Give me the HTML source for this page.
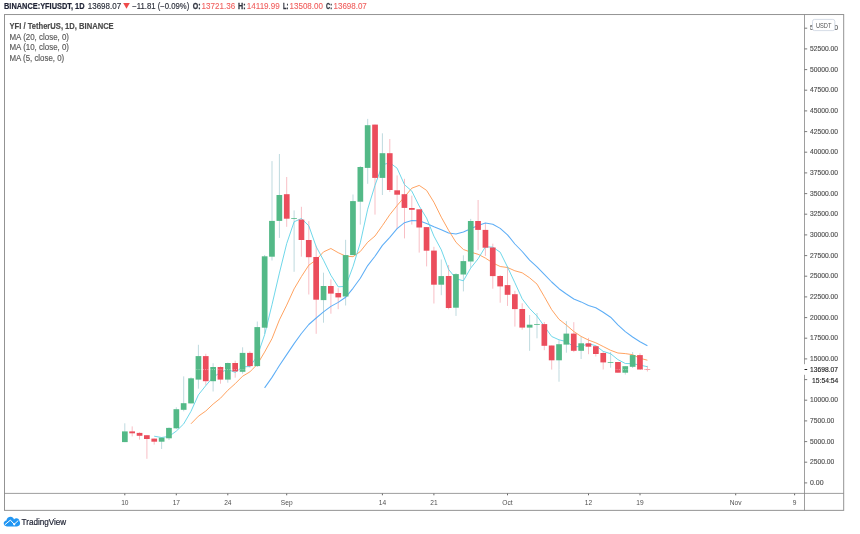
<!DOCTYPE html>
<html><head><meta charset="utf-8"><title>YFIUSDT chart</title>
<style>html,body{margin:0;padding:0;background:#fff}svg{display:block}text{font-family:"Liberation Sans",Arial,sans-serif}</style></head><body>
<svg width="860" height="534" viewBox="0 0 860 534">
<rect width="860" height="534" fill="#fff"/>
<g id="wicks" stroke-width="0.85">
<line x1="124.8" x2="124.8" y1="423.3" y2="442.1" stroke="#b4d3d9"/>
<line x1="132.2" x2="132.2" y1="426.4" y2="436.4" stroke="#f7b3ba"/>
<line x1="139.5" x2="139.5" y1="432.3" y2="439.6" stroke="#f7b3ba"/>
<line x1="146.9" x2="146.9" y1="435.2" y2="458.8" stroke="#f7b3ba"/>
<line x1="154.2" x2="154.2" y1="438.6" y2="444.6" stroke="#f7b3ba"/>
<line x1="161.6" x2="161.6" y1="437.1" y2="449.0" stroke="#b4d3d9"/>
<line x1="169.0" x2="169.0" y1="427.4" y2="440.0" stroke="#b4d3d9"/>
<line x1="176.3" x2="176.3" y1="407.3" y2="429.2" stroke="#b4d3d9"/>
<line x1="183.7" x2="183.7" y1="376.4" y2="411.3" stroke="#b4d3d9"/>
<line x1="191.0" x2="191.0" y1="377.4" y2="403.4" stroke="#b4d3d9"/>
<line x1="198.4" x2="198.4" y1="344.8" y2="388.7" stroke="#b4d3d9"/>
<line x1="205.8" x2="205.8" y1="353.8" y2="385.5" stroke="#f7b3ba"/>
<line x1="213.1" x2="213.1" y1="363.2" y2="391.5" stroke="#b4d3d9"/>
<line x1="220.5" x2="220.5" y1="366.4" y2="383.7" stroke="#f7b3ba"/>
<line x1="227.8" x2="227.8" y1="362.6" y2="382.7" stroke="#b4d3d9"/>
<line x1="235.2" x2="235.2" y1="360.7" y2="377.7" stroke="#f7b3ba"/>
<line x1="242.6" x2="242.6" y1="347.3" y2="373.7" stroke="#b4d3d9"/>
<line x1="249.9" x2="249.9" y1="351.3" y2="367.6" stroke="#f7b3ba"/>
<line x1="257.3" x2="257.3" y1="321.5" y2="367.0" stroke="#b4d3d9"/>
<line x1="264.6" x2="264.6" y1="255.0" y2="334.0" stroke="#b4d3d9"/>
<line x1="272.0" x2="272.0" y1="161.1" y2="260.5" stroke="#b4d3d9"/>
<line x1="279.4" x2="279.4" y1="154.0" y2="237.9" stroke="#b4d3d9"/>
<line x1="286.7" x2="286.7" y1="177.0" y2="226.8" stroke="#f7b3ba"/>
<line x1="294.1" x2="294.1" y1="210.4" y2="271.8" stroke="#b4d3d9"/>
<line x1="301.4" x2="301.4" y1="206.8" y2="256.7" stroke="#f7b3ba"/>
<line x1="308.8" x2="308.8" y1="221.2" y2="294.5" stroke="#f7b3ba"/>
<line x1="316.2" x2="316.2" y1="245.7" y2="333.8" stroke="#f7b3ba"/>
<line x1="323.5" x2="323.5" y1="272.7" y2="322.7" stroke="#b4d3d9"/>
<line x1="330.9" x2="330.9" y1="279.4" y2="313.7" stroke="#f7b3ba"/>
<line x1="338.2" x2="338.2" y1="288.2" y2="309.2" stroke="#f7b3ba"/>
<line x1="345.6" x2="345.6" y1="239.8" y2="305.5" stroke="#b4d3d9"/>
<line x1="353.0" x2="353.0" y1="194.5" y2="255.1" stroke="#b4d3d9"/>
<line x1="360.3" x2="360.3" y1="166.0" y2="224.6" stroke="#b4d3d9"/>
<line x1="367.7" x2="367.7" y1="118.9" y2="183.8" stroke="#b4d3d9"/>
<line x1="375.0" x2="375.0" y1="124.6" y2="214.6" stroke="#f7b3ba"/>
<line x1="382.4" x2="382.4" y1="133.3" y2="195.0" stroke="#b4d3d9"/>
<line x1="389.8" x2="389.8" y1="139.0" y2="192.0" stroke="#f7b3ba"/>
<line x1="397.1" x2="397.1" y1="175.4" y2="229.0" stroke="#f7b3ba"/>
<line x1="404.5" x2="404.5" y1="178.8" y2="238.4" stroke="#f7b3ba"/>
<line x1="411.8" x2="411.8" y1="195.7" y2="224.6" stroke="#f7b3ba"/>
<line x1="419.2" x2="419.2" y1="209.3" y2="252.6" stroke="#f7b3ba"/>
<line x1="426.6" x2="426.6" y1="227.1" y2="266.4" stroke="#f7b3ba"/>
<line x1="433.9" x2="433.9" y1="246.8" y2="303.5" stroke="#f7b3ba"/>
<line x1="441.3" x2="441.3" y1="259.5" y2="295.2" stroke="#b4d3d9"/>
<line x1="448.6" x2="448.6" y1="265.0" y2="309.3" stroke="#f7b3ba"/>
<line x1="456.0" x2="456.0" y1="273.2" y2="315.9" stroke="#b4d3d9"/>
<line x1="463.4" x2="463.4" y1="255.3" y2="291.4" stroke="#b4d3d9"/>
<line x1="470.7" x2="470.7" y1="218.9" y2="267.6" stroke="#b4d3d9"/>
<line x1="478.1" x2="478.1" y1="200.0" y2="249.9" stroke="#f7b3ba"/>
<line x1="485.4" x2="485.4" y1="222.9" y2="255.9" stroke="#f7b3ba"/>
<line x1="492.8" x2="492.8" y1="243.7" y2="288.7" stroke="#f7b3ba"/>
<line x1="500.2" x2="500.2" y1="275.1" y2="302.7" stroke="#f7b3ba"/>
<line x1="507.5" x2="507.5" y1="266.3" y2="305.9" stroke="#f7b3ba"/>
<line x1="514.9" x2="514.9" y1="290.8" y2="326.6" stroke="#f7b3ba"/>
<line x1="522.2" x2="522.2" y1="303.3" y2="329.7" stroke="#f7b3ba"/>
<line x1="529.6" x2="529.6" y1="315.0" y2="350.8" stroke="#b4d3d9"/>
<line x1="537.0" x2="537.0" y1="313.0" y2="338.3" stroke="#b4d3d9"/>
<line x1="544.3" x2="544.3" y1="322.0" y2="350.2" stroke="#f7b3ba"/>
<line x1="551.7" x2="551.7" y1="345.5" y2="369.7" stroke="#f7b3ba"/>
<line x1="559.0" x2="559.0" y1="340.2" y2="381.7" stroke="#b4d3d9"/>
<line x1="566.4" x2="566.4" y1="321.1" y2="352.7" stroke="#b4d3d9"/>
<line x1="573.8" x2="573.8" y1="322.2" y2="352.1" stroke="#f7b3ba"/>
<line x1="581.1" x2="581.1" y1="336.4" y2="359.0" stroke="#b4d3d9"/>
<line x1="588.5" x2="588.5" y1="337.9" y2="354.2" stroke="#f7b3ba"/>
<line x1="595.8" x2="595.8" y1="345.5" y2="356.5" stroke="#f7b3ba"/>
<line x1="603.2" x2="603.2" y1="351.5" y2="369.6" stroke="#f7b3ba"/>
<line x1="610.6" x2="610.6" y1="352.0" y2="367.7" stroke="#b4d3d9"/>
<line x1="617.9" x2="617.9" y1="362.0" y2="372.7" stroke="#f7b3ba"/>
<line x1="625.3" x2="625.3" y1="366.2" y2="374.6" stroke="#b4d3d9"/>
<line x1="632.6" x2="632.6" y1="352.0" y2="368.0" stroke="#b4d3d9"/>
<line x1="640.0" x2="640.0" y1="353.3" y2="369.6" stroke="#f7b3ba"/>
<line x1="647.4" x2="647.4" y1="365.8" y2="371.5" stroke="#f7b3ba"/>
</g>
<g fill="none" stroke-linejoin="round">
<path d="M264.6 387.9 L272.0 377.4 L279.4 365.5 L286.7 354.6 L294.1 343.6 L301.4 333.5 L308.8 324.5 L316.2 318.0 L323.5 311.9 L330.9 306.4 L338.2 302.4 L345.6 297.3 L353.0 288.3 L360.3 278.3 L367.7 265.6 L375.0 256.3 L382.4 245.4 L389.8 237.3 L397.1 228.7 L404.5 222.7 L411.8 220.4 L419.2 220.8 L426.6 223.5 L433.9 226.8 L441.3 229.7 L448.6 233.1 L456.0 234.0 L463.4 232.1 L470.7 228.8 L478.1 225.6 L485.4 223.1 L492.8 224.2 L500.2 228.4 L507.5 234.8 L514.9 244.0 L522.2 251.5 L529.6 260.1 L537.0 266.8 L544.3 274.4 L551.7 282.0 L559.0 288.7 L566.4 294.0 L573.8 299.0 L581.1 301.9 L588.5 305.5 L595.8 307.8 L603.2 312.2 L610.6 317.2 L617.9 324.8 L625.3 331.6 L632.6 337.0 L640.0 341.7 L647.4 345.8" stroke="#5eaef6" stroke-width="1.05"/>
<path d="M191.0 423.8 L198.4 416.2 L205.8 411.0 L213.1 404.1 L220.5 398.2 L227.8 390.3 L235.2 383.7 L242.6 376.2 L249.9 371.9 L257.3 364.3 L264.6 352.1 L272.0 338.6 L279.4 319.9 L286.7 305.1 L294.1 288.9 L301.4 276.6 L308.8 265.2 L316.2 259.9 L323.5 251.9 L330.9 248.5 L338.2 252.7 L345.6 256.1 L353.0 256.7 L360.3 251.5 L367.7 242.2 L375.0 236.0 L382.4 225.6 L389.8 214.7 L397.1 205.5 L404.5 196.9 L411.8 188.2 L419.2 185.4 L426.6 190.4 L433.9 202.2 L441.3 217.2 L448.6 230.3 L456.0 242.3 L463.4 249.5 L470.7 252.1 L478.1 254.3 L485.4 258.1 L492.8 262.9 L500.2 266.5 L507.5 267.5 L514.9 270.8 L522.2 272.8 L529.6 277.8 L537.0 284.1 L544.3 296.6 L551.7 309.7 L559.0 319.3 L566.4 325.1 L573.8 331.5 L581.1 336.4 L588.5 340.1 L595.8 342.8 L603.2 346.5 L610.6 350.3 L617.9 353.0 L625.3 353.6 L632.6 354.7 L640.0 358.3 L647.4 360.2" stroke="#ff9850" stroke-width="0.9"/>
<path d="M154.2 436.2 L161.6 437.5 L169.0 436.4 L176.3 431.1 L183.7 423.9 L191.0 411.3 L198.4 394.9 L205.8 385.6 L213.1 377.2 L220.5 372.4 L227.8 369.4 L235.2 372.4 L242.6 366.8 L249.9 366.6 L257.3 356.1 L264.6 334.8 L272.0 304.7 L279.4 273.1 L286.7 243.6 L294.1 221.8 L301.4 218.5 L308.8 225.8 L316.2 246.7 L323.5 260.2 L330.9 275.3 L338.2 286.8 L345.6 286.4 L353.0 266.6 L360.3 242.8 L367.7 209.2 L375.0 185.3 L382.4 164.9 L389.8 162.7 L397.1 168.2 L404.5 184.7 L411.8 191.1 L419.2 206.0 L426.6 218.1 L433.9 236.1 L441.3 249.8 L448.6 269.4 L456.0 278.7 L463.4 280.8 L470.7 268.1 L478.1 258.8 L485.4 246.8 L492.8 247.2 L500.2 252.2 L507.5 267.0 L514.9 282.8 L522.2 298.8 L529.6 308.5 L537.0 316.1 L544.3 326.3 L551.7 336.5 L559.0 339.8 L566.4 341.6 L573.8 346.9 L581.1 346.4 L588.5 343.7 L595.8 345.7 L603.2 351.4 L610.6 353.7 L617.9 359.6 L625.3 363.5 L632.6 363.7 L640.0 365.1 L647.4 366.7" stroke="#5fd3e6" stroke-width="0.9"/>
</g>
<g id="bodies">
<rect x="122.0" y="431.4" width="5.7" height="10.7" fill="#53b987"/>
<rect x="129.3" y="431.4" width="5.7" height="1.9" fill="#eb4d5c"/>
<rect x="136.7" y="432.9" width="5.7" height="2.9" fill="#eb4d5c"/>
<rect x="144.0" y="435.2" width="5.7" height="3.8" fill="#eb4d5c"/>
<rect x="151.4" y="438.6" width="5.7" height="3.1" fill="#eb4d5c"/>
<rect x="158.8" y="437.7" width="5.7" height="4.0" fill="#53b987"/>
<rect x="166.1" y="427.9" width="5.7" height="10.4" fill="#53b987"/>
<rect x="173.5" y="409.2" width="5.7" height="19.1" fill="#53b987"/>
<rect x="180.8" y="403.2" width="5.7" height="6.6" fill="#53b987"/>
<rect x="188.2" y="378.3" width="5.7" height="25.1" fill="#53b987"/>
<rect x="195.6" y="356.1" width="5.7" height="23.5" fill="#53b987"/>
<rect x="202.9" y="356.1" width="5.7" height="25.1" fill="#eb4d5c"/>
<rect x="210.3" y="367.0" width="5.7" height="14.2" fill="#53b987"/>
<rect x="217.6" y="367.0" width="5.7" height="12.6" fill="#eb4d5c"/>
<rect x="225.0" y="363.0" width="5.7" height="16.6" fill="#53b987"/>
<rect x="232.3" y="363.0" width="5.7" height="8.4" fill="#eb4d5c"/>
<rect x="239.7" y="352.9" width="5.7" height="18.9" fill="#53b987"/>
<rect x="247.1" y="352.9" width="5.7" height="13.2" fill="#eb4d5c"/>
<rect x="254.4" y="327.1" width="5.7" height="39.0" fill="#53b987"/>
<rect x="261.8" y="256.3" width="5.7" height="71.4" fill="#53b987"/>
<rect x="269.1" y="220.9" width="5.7" height="35.8" fill="#53b987"/>
<rect x="276.5" y="195.0" width="5.7" height="25.9" fill="#53b987"/>
<rect x="283.9" y="194.2" width="5.7" height="24.5" fill="#eb4d5c"/>
<rect x="291.2" y="218.0" width="5.7" height="0.8" fill="#53b987"/>
<rect x="298.6" y="219.6" width="5.7" height="20.4" fill="#eb4d5c"/>
<rect x="305.9" y="240.0" width="5.7" height="17.2" fill="#eb4d5c"/>
<rect x="313.3" y="257.0" width="5.7" height="42.7" fill="#eb4d5c"/>
<rect x="320.7" y="286.0" width="5.7" height="14.1" fill="#53b987"/>
<rect x="328.0" y="286.0" width="5.7" height="7.6" fill="#eb4d5c"/>
<rect x="335.4" y="293.0" width="5.7" height="4.4" fill="#eb4d5c"/>
<rect x="342.8" y="255.1" width="5.7" height="41.4" fill="#53b987"/>
<rect x="350.1" y="201.1" width="5.7" height="54.0" fill="#53b987"/>
<rect x="357.5" y="167.0" width="5.7" height="34.7" fill="#53b987"/>
<rect x="364.8" y="125.2" width="5.7" height="42.7" fill="#53b987"/>
<rect x="372.2" y="124.6" width="5.7" height="53.3" fill="#eb4d5c"/>
<rect x="379.6" y="153.2" width="5.7" height="24.7" fill="#53b987"/>
<rect x="386.9" y="153.2" width="5.7" height="36.8" fill="#eb4d5c"/>
<rect x="394.3" y="190.3" width="5.7" height="4.4" fill="#eb4d5c"/>
<rect x="401.6" y="194.2" width="5.7" height="13.7" fill="#eb4d5c"/>
<rect x="409.0" y="208.0" width="5.7" height="1.8" fill="#eb4d5c"/>
<rect x="416.4" y="209.3" width="5.7" height="18.2" fill="#eb4d5c"/>
<rect x="423.7" y="227.1" width="5.7" height="23.6" fill="#eb4d5c"/>
<rect x="431.1" y="250.6" width="5.7" height="34.1" fill="#eb4d5c"/>
<rect x="438.4" y="276.1" width="5.7" height="8.6" fill="#53b987"/>
<rect x="445.8" y="276.0" width="5.7" height="32.0" fill="#eb4d5c"/>
<rect x="453.1" y="274.1" width="5.7" height="33.6" fill="#53b987"/>
<rect x="460.5" y="261.1" width="5.7" height="13.4" fill="#53b987"/>
<rect x="467.9" y="221.0" width="5.7" height="40.5" fill="#53b987"/>
<rect x="475.2" y="221.0" width="5.7" height="8.9" fill="#eb4d5c"/>
<rect x="482.6" y="229.9" width="5.7" height="17.8" fill="#eb4d5c"/>
<rect x="489.9" y="247.5" width="5.7" height="28.6" fill="#eb4d5c"/>
<rect x="497.3" y="276.0" width="5.7" height="10.4" fill="#eb4d5c"/>
<rect x="504.7" y="285.1" width="5.7" height="9.7" fill="#eb4d5c"/>
<rect x="512.0" y="294.2" width="5.7" height="14.9" fill="#eb4d5c"/>
<rect x="519.4" y="309.0" width="5.7" height="18.6" fill="#eb4d5c"/>
<rect x="526.8" y="324.7" width="5.7" height="2.9" fill="#53b987"/>
<rect x="534.1" y="324.1" width="5.7" height="0.8" fill="#53b987"/>
<rect x="541.5" y="324.1" width="5.7" height="21.7" fill="#eb4d5c"/>
<rect x="548.8" y="345.5" width="5.7" height="14.8" fill="#eb4d5c"/>
<rect x="556.2" y="344.2" width="5.7" height="16.1" fill="#53b987"/>
<rect x="563.5" y="333.6" width="5.7" height="11.0" fill="#53b987"/>
<rect x="570.9" y="333.6" width="5.7" height="17.2" fill="#eb4d5c"/>
<rect x="578.3" y="343.3" width="5.7" height="7.5" fill="#53b987"/>
<rect x="585.6" y="343.3" width="5.7" height="3.4" fill="#eb4d5c"/>
<rect x="593.0" y="346.2" width="5.7" height="7.8" fill="#eb4d5c"/>
<rect x="600.4" y="353.0" width="5.7" height="9.4" fill="#eb4d5c"/>
<rect x="607.7" y="362.0" width="5.7" height="0.8" fill="#53b987"/>
<rect x="615.1" y="362.0" width="5.7" height="10.7" fill="#eb4d5c"/>
<rect x="622.4" y="366.2" width="5.7" height="6.5" fill="#53b987"/>
<rect x="629.8" y="355.1" width="5.7" height="11.7" fill="#53b987"/>
<rect x="637.1" y="355.1" width="5.7" height="14.5" fill="#eb4d5c"/>
<rect x="644.5" y="369.2" width="5.7" height="0.8" fill="#f0808a"/>
</g>
<line x1="5" x2="804" y1="369.6" y2="369.6" stroke="#fff" stroke-opacity="0.6" stroke-width="0.8" stroke-dasharray="0.9 1.3"/>
<g fill="none">
<rect x="4.5" y="14.55" width="839.2" height="495.8" stroke="#8e8e8e" stroke-width="0.95"/>
<line x1="4.5" x2="843.7" y1="493.4" y2="493.4" stroke="#858585" stroke-width="0.8"/>
<line x1="804.5" x2="804.5" y1="14.6" y2="510.4" stroke="#858585" stroke-width="0.8"/>
</g>
<g font-size="7.4" fill="#505050" stroke="#505050" stroke-width="0.15">
<line x1="804.5" x2="807.2" y1="482.9" y2="482.9" stroke="#6a6a6a" stroke-width="0.9"/>
<text x="810" y="485.1" textLength="13.5" lengthAdjust="spacingAndGlyphs">0.00</text>
<line x1="804.5" x2="807.2" y1="462.2" y2="462.2" stroke="#6a6a6a" stroke-width="0.9"/>
<text x="810" y="464.4" textLength="24.2" lengthAdjust="spacingAndGlyphs">2500.00</text>
<line x1="804.5" x2="807.2" y1="441.6" y2="441.6" stroke="#6a6a6a" stroke-width="0.9"/>
<text x="810" y="443.8" textLength="24.2" lengthAdjust="spacingAndGlyphs">5000.00</text>
<line x1="804.5" x2="807.2" y1="420.9" y2="420.9" stroke="#6a6a6a" stroke-width="0.9"/>
<text x="810" y="423.1" textLength="24.2" lengthAdjust="spacingAndGlyphs">7500.00</text>
<line x1="804.5" x2="807.2" y1="400.2" y2="400.2" stroke="#6a6a6a" stroke-width="0.9"/>
<text x="810" y="402.4" textLength="28.0" lengthAdjust="spacingAndGlyphs">10000.00</text>
<line x1="804.5" x2="807.2" y1="379.6" y2="379.6" stroke="#6a6a6a" stroke-width="0.9"/>
<line x1="804.5" x2="807.2" y1="358.9" y2="358.9" stroke="#6a6a6a" stroke-width="0.9"/>
<text x="810" y="361.1" textLength="28.0" lengthAdjust="spacingAndGlyphs">15000.00</text>
<line x1="804.5" x2="807.2" y1="338.2" y2="338.2" stroke="#6a6a6a" stroke-width="0.9"/>
<text x="810" y="340.4" textLength="28.0" lengthAdjust="spacingAndGlyphs">17500.00</text>
<line x1="804.5" x2="807.2" y1="317.6" y2="317.6" stroke="#6a6a6a" stroke-width="0.9"/>
<text x="810" y="319.8" textLength="28.0" lengthAdjust="spacingAndGlyphs">20000.00</text>
<line x1="804.5" x2="807.2" y1="296.9" y2="296.9" stroke="#6a6a6a" stroke-width="0.9"/>
<text x="810" y="299.1" textLength="28.0" lengthAdjust="spacingAndGlyphs">22500.00</text>
<line x1="804.5" x2="807.2" y1="276.2" y2="276.2" stroke="#6a6a6a" stroke-width="0.9"/>
<text x="810" y="278.4" textLength="28.0" lengthAdjust="spacingAndGlyphs">25000.00</text>
<line x1="804.5" x2="807.2" y1="255.6" y2="255.6" stroke="#6a6a6a" stroke-width="0.9"/>
<text x="810" y="257.8" textLength="28.0" lengthAdjust="spacingAndGlyphs">27500.00</text>
<line x1="804.5" x2="807.2" y1="234.9" y2="234.9" stroke="#6a6a6a" stroke-width="0.9"/>
<text x="810" y="237.1" textLength="28.0" lengthAdjust="spacingAndGlyphs">30000.00</text>
<line x1="804.5" x2="807.2" y1="214.2" y2="214.2" stroke="#6a6a6a" stroke-width="0.9"/>
<text x="810" y="216.4" textLength="28.0" lengthAdjust="spacingAndGlyphs">32500.00</text>
<line x1="804.5" x2="807.2" y1="193.6" y2="193.6" stroke="#6a6a6a" stroke-width="0.9"/>
<text x="810" y="195.8" textLength="28.0" lengthAdjust="spacingAndGlyphs">35000.00</text>
<line x1="804.5" x2="807.2" y1="172.9" y2="172.9" stroke="#6a6a6a" stroke-width="0.9"/>
<text x="810" y="175.1" textLength="28.0" lengthAdjust="spacingAndGlyphs">37500.00</text>
<line x1="804.5" x2="807.2" y1="152.2" y2="152.2" stroke="#6a6a6a" stroke-width="0.9"/>
<text x="810" y="154.4" textLength="28.0" lengthAdjust="spacingAndGlyphs">40000.00</text>
<line x1="804.5" x2="807.2" y1="131.6" y2="131.6" stroke="#6a6a6a" stroke-width="0.9"/>
<text x="810" y="133.8" textLength="28.0" lengthAdjust="spacingAndGlyphs">42500.00</text>
<line x1="804.5" x2="807.2" y1="110.9" y2="110.9" stroke="#6a6a6a" stroke-width="0.9"/>
<text x="810" y="113.1" textLength="28.0" lengthAdjust="spacingAndGlyphs">45000.00</text>
<line x1="804.5" x2="807.2" y1="90.2" y2="90.2" stroke="#6a6a6a" stroke-width="0.9"/>
<text x="810" y="92.4" textLength="28.0" lengthAdjust="spacingAndGlyphs">47500.00</text>
<line x1="804.5" x2="807.2" y1="69.6" y2="69.6" stroke="#6a6a6a" stroke-width="0.9"/>
<text x="810" y="71.8" textLength="28.0" lengthAdjust="spacingAndGlyphs">50000.00</text>
<line x1="804.5" x2="807.2" y1="48.9" y2="48.9" stroke="#6a6a6a" stroke-width="0.9"/>
<text x="810" y="51.1" textLength="28.0" lengthAdjust="spacingAndGlyphs">52500.00</text>
<line x1="804.5" x2="807.2" y1="28.2" y2="28.2" stroke="#6a6a6a" stroke-width="0.9"/>
<text x="810" y="30.4" textLength="28.0" lengthAdjust="spacingAndGlyphs">55000.00</text>
</g>
<rect x="805.2" y="364.2" width="37.8" height="10.6" fill="#fff"/>
<rect x="803.8" y="364.2" width="1.6" height="10.6" fill="#fff"/>
<line x1="804.5" x2="807.2" y1="369.5" y2="369.5" stroke="#222" stroke-width="1"/>
<text x="810" y="372.2" font-size="7.4" fill="#1e1e1e" stroke="#1e1e1e" stroke-width="0.15" textLength="28" lengthAdjust="spacingAndGlyphs">13698.07</text>
<text x="812" y="383.3" font-size="7.4" fill="#1e1e1e" stroke="#1e1e1e" stroke-width="0.15" textLength="26.3" lengthAdjust="spacingAndGlyphs">15:54:54</text>
<rect x="812.5" y="19.4" width="22.3" height="11.2" rx="2" fill="#fff" stroke="#ccd3e0" stroke-width="0.8"/>
<text x="823.7" y="27.6" font-size="6.8" fill="#555" text-anchor="middle" textLength="15.5" lengthAdjust="spacingAndGlyphs">USDT</text>
<g font-size="6.6" fill="#505050" text-anchor="middle">
<line x1="124.8" x2="124.8" y1="493.5" y2="495.3" stroke="#666" stroke-width="1"/>
<text x="124.8" y="505">10</text>
<line x1="176.3" x2="176.3" y1="493.5" y2="495.3" stroke="#666" stroke-width="1"/>
<text x="176.3" y="505">17</text>
<line x1="227.8" x2="227.8" y1="493.5" y2="495.3" stroke="#666" stroke-width="1"/>
<text x="227.8" y="505">24</text>
<line x1="286.7" x2="286.7" y1="493.5" y2="495.3" stroke="#666" stroke-width="1"/>
<text x="286.7" y="505">Sep</text>
<line x1="382.4" x2="382.4" y1="493.5" y2="495.3" stroke="#666" stroke-width="1"/>
<text x="382.4" y="505">14</text>
<line x1="433.9" x2="433.9" y1="493.5" y2="495.3" stroke="#666" stroke-width="1"/>
<text x="433.9" y="505">21</text>
<line x1="507.5" x2="507.5" y1="493.5" y2="495.3" stroke="#666" stroke-width="1"/>
<text x="507.5" y="505">Oct</text>
<line x1="588.5" x2="588.5" y1="493.5" y2="495.3" stroke="#666" stroke-width="1"/>
<text x="588.5" y="505">12</text>
<line x1="640.0" x2="640.0" y1="493.5" y2="495.3" stroke="#666" stroke-width="1"/>
<text x="640.0" y="505">19</text>
<line x1="735.7" x2="735.7" y1="493.5" y2="495.3" stroke="#666" stroke-width="1"/>
<text x="735.7" y="505">Nov</text>
<line x1="794.6" x2="794.6" y1="493.5" y2="495.3" stroke="#666" stroke-width="1"/>
<text x="794.6" y="505">9</text>
</g>
<g font-size="8.4">
<text x="4" y="8.8" font-weight="bold" fill="#1f2335" stroke="#1f2335" stroke-width="0.2" textLength="80.5" lengthAdjust="spacingAndGlyphs">BINANCE:YFIUSDT, 1D</text>
<text x="87.8" y="8.8" fill="#2a2e39" stroke="#2a2e39" stroke-width="0.15" textLength="33.3" lengthAdjust="spacingAndGlyphs">13698.07</text>
<path d="M123.2 3 L129.8 3 L126.5 8.8 Z" fill="#ef4a4a"/>
<text x="132.3" y="8.8" fill="#2a2e39" stroke="#2a2e39" stroke-width="0.15" textLength="57" lengthAdjust="spacingAndGlyphs">−11.81 (−0.09%)</text>
<text x="192.7" y="8.8" font-weight="bold" fill="#30343f" stroke="#30343f" stroke-width="0.3" textLength="7.8" lengthAdjust="spacingAndGlyphs">O:</text>
<text x="201.6" y="8.8" fill="#f0605f" stroke="#f0605f" stroke-width="0.1" textLength="33.6" lengthAdjust="spacingAndGlyphs">13721.36</text>
<text x="238.0" y="8.8" font-weight="bold" fill="#30343f" stroke="#30343f" stroke-width="0.3" textLength="7.5" lengthAdjust="spacingAndGlyphs">H:</text>
<text x="246.8" y="8.8" fill="#f0605f" stroke="#f0605f" stroke-width="0.1" textLength="33.0" lengthAdjust="spacingAndGlyphs">14119.99</text>
<text x="283.1" y="8.8" font-weight="bold" fill="#30343f" stroke="#30343f" stroke-width="0.3" textLength="5.4" lengthAdjust="spacingAndGlyphs">L:</text>
<text x="289.6" y="8.8" fill="#f0605f" stroke="#f0605f" stroke-width="0.1" textLength="33.3" lengthAdjust="spacingAndGlyphs">13508.00</text>
<text x="326.0" y="8.8" font-weight="bold" fill="#30343f" stroke="#30343f" stroke-width="0.3" textLength="6.1" lengthAdjust="spacingAndGlyphs">C:</text>
<text x="333.5" y="8.8" fill="#f0605f" stroke="#f0605f" stroke-width="0.1" textLength="33.3" lengthAdjust="spacingAndGlyphs">13698.07</text>
</g>
<g font-size="8.2">
<text x="9.5" y="28.7" font-weight="bold" fill="#4a4a4a" stroke="#4a4a4a" stroke-width="0.15" textLength="104.2" lengthAdjust="spacingAndGlyphs">YFI / TetherUS, 1D, BINANCE</text>
<text x="9.5" y="39.7" fill="#5a5a5a" stroke="#5a5a5a" stroke-width="0.15" textLength="59.5" lengthAdjust="spacingAndGlyphs">MA (20, close, 0)</text>
<text x="9.5" y="50.3" fill="#5a5a5a" stroke="#5a5a5a" stroke-width="0.15" textLength="59.5" lengthAdjust="spacingAndGlyphs">MA (10, close, 0)</text>
<text x="9.5" y="60.9" fill="#5a5a5a" stroke="#5a5a5a" stroke-width="0.15" textLength="54.7" lengthAdjust="spacingAndGlyphs">MA (5, close, 0)</text>
</g>
<g id="tvlogo">
<path d="M7 526.4 C5 526.4 3.7 525 3.7 523.3 C3.7 521.7 4.9 520.5 6.4 520.4 C6.6 518.3 8.4 516.8 10.6 516.8 C12.2 516.8 13.5 517.7 14 519.4 C14.6 518.6 15.4 518.2 16.4 518.2 C18.1 518.2 19.4 519.5 19.4 521.1 C19.9 521.7 20.1 522.4 20.1 523.3 C20.1 525 18.8 526.4 17 526.4 Z" fill="#2196f3"/>
<path d="M4.8 524.8 L10.4 520.1 L14.2 524.3 L18.3 520.5" fill="none" stroke="#fff" stroke-width="1" stroke-linejoin="round"/>
<circle cx="14.2" cy="524.3" r="1.1" fill="#fff"/>
<text x="21.6" y="524.7" font-size="8.4" fill="#1e2233" stroke="#1e2233" stroke-width="0.2" textLength="44.6" lengthAdjust="spacingAndGlyphs">TradingView</text>
</g>
</svg></body></html>
